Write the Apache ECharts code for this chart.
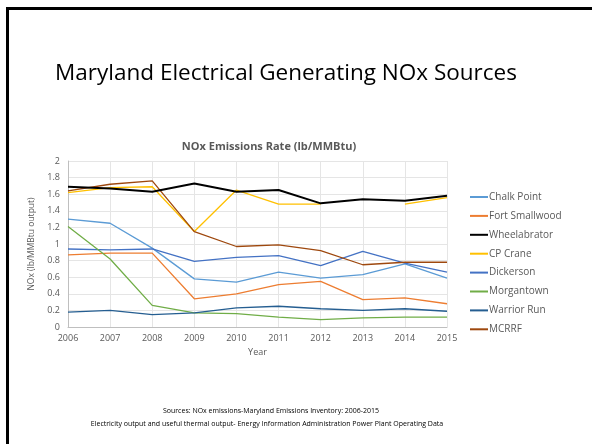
<!DOCTYPE html>
<html><head><meta charset="utf-8">
<script src="https://cdn.jsdelivr.net/npm/echarts@6/dist/echarts.min.js"></script>
<style>html,body{margin:0;padding:0;background:#fff}#c{width:592px;height:444px}</style>
</head><body><div id="c"></div>
<script>
const years = ['2006','2007','2008','2009','2010','2011','2012','2013','2014','2015'];
const chalkPoint    = [1.30,1.25,0.95,0.58,0.54,0.66,0.59,0.63,0.76,0.59];
const fortSmallwood = [0.87,0.89,0.89,0.34,0.40,0.51,0.55,0.33,0.35,0.28];
const wheelabrator  = [1.69,1.67,1.63,1.73,1.63,1.65,1.49,1.54,1.52,1.58];
const cpCrane       = [1.62,1.68,1.69,1.15,1.65,1.48,1.48,null,1.48,1.56];
const dickerson     = [0.94,0.93,0.94,0.79,0.84,0.86,0.74,0.91,0.77,0.66];
const morgantown    = [1.21,0.82,0.26,0.17,0.16,0.12,0.09,0.11,0.12,0.12];
const warriorRun    = [0.18,0.20,0.15,0.17,0.23,0.25,0.22,0.20,0.22,0.19];
const mcrrf         = [1.64,1.72,1.76,1.15,0.97,0.99,0.92,0.75,0.78,0.78];
const seriesNames = ['Chalk Point','Fort Smallwood','Wheelabrator','CP Crane','Dickerson','Morgantown','Warrior Run','MCRRF'];
const seriesData = [chalkPoint,fortSmallwood,wheelabrator,cpCrane,dickerson,morgantown,warriorRun,mcrrf];
const colors = ['#5B9BD5','#ED7D31','#000000','#FFC000','#4472C4','#70AD47','#255E91','#9E480E'];
const widths = [1.3,1.3,2,1.3,1.3,1.3,1.3,1.3];

const chart = echarts.init(document.getElementById('c'));
chart.setOption({
  animation:false,
  color: colors,
  title: [
    {text:'Maryland Electrical Generating NOx Sources', left:281, textAlign:'center', top:57,
     textStyle:{fontFamily:'Open Sans', fontSize:22.5, fontWeight:'normal', color:'#000'}},
    {text:'NOx Emissions Rate (lb/MMBtu)', left:264, textAlign:'center', top:136,
     textStyle:{fontFamily:'Open Sans', fontSize:11, fontWeight:'bold', color:'#595959'}},
    {text:'Sources: NOx emissions-Maryland Emissions Inventory: 2006-2015', left:266, textAlign:'center', top:402,
     textStyle:{fontFamily:'Open Sans', fontSize:7, fontWeight:'normal', color:'#000'}},
    {text:'Electricity output and useful thermal output- Energy Information Administration Power Plant Operating Data', left:262, textAlign:'center', top:415,
     textStyle:{fontFamily:'Open Sans', fontSize:7, fontWeight:'normal', color:'#000'}}
  ],
  graphic: [
    {type:'rect', shape:{x:7.5, y:8.5, width:800, height:800},
     style:{fill:'none', stroke:'#000', lineWidth:3}}
  ],
  legend: {
    orient:'vertical', left:470, top:192, padding:0, itemGap:8.9, itemWidth:18, itemHeight:2, icon:'rect',
    textStyle:{fontFamily:'Open Sans', fontSize:10, color:'#595959', padding:[0,0,0,-4]},
    data: seriesNames
  },
  grid: {left:68, right:145, top:161, bottom:117, containLabel:false},
  xAxis: {
    type:'category', data:years, boundaryGap:false,
    name:'Year', nameLocation:'middle', nameGap:21,
    nameTextStyle:{fontFamily:'Open Sans', fontSize:9, color:'#595959'},
    axisLine:{lineStyle:{color:'#BFBFBF'}}, axisTick:{show:false},
    axisLabel:{fontFamily:'Open Sans', fontSize:9, color:'#595959', margin:7},
    splitLine:{show:true, lineStyle:{color:'#E5E5E5'}}
  },
  yAxis: {
    type:'value', min:0, max:2, interval:0.2,
    name:'NOx (lb/MMBtu output)', nameLocation:'middle', nameGap:24,
    nameTextStyle:{fontFamily:'Open Sans', fontSize:8.5, color:'#595959'},
    axisLine:{show:true, lineStyle:{color:'#BFBFBF'}}, axisTick:{show:false},
    axisLabel:{fontFamily:'Open Sans', fontSize:9, color:'#595959', margin:8,
      formatter: v => String(Math.round(v*10)/10)},
    splitLine:{lineStyle:{color:'#E5E5E5'}}
  },
  series: seriesNames.map((n,i)=>({
    name:n, type:'line', data:seriesData[i], symbol:'none', connectNulls:false,
    lineStyle:{width:widths[i], color:colors[i]}, z: i===2?3:2
  }))
});
</script></body></html>
